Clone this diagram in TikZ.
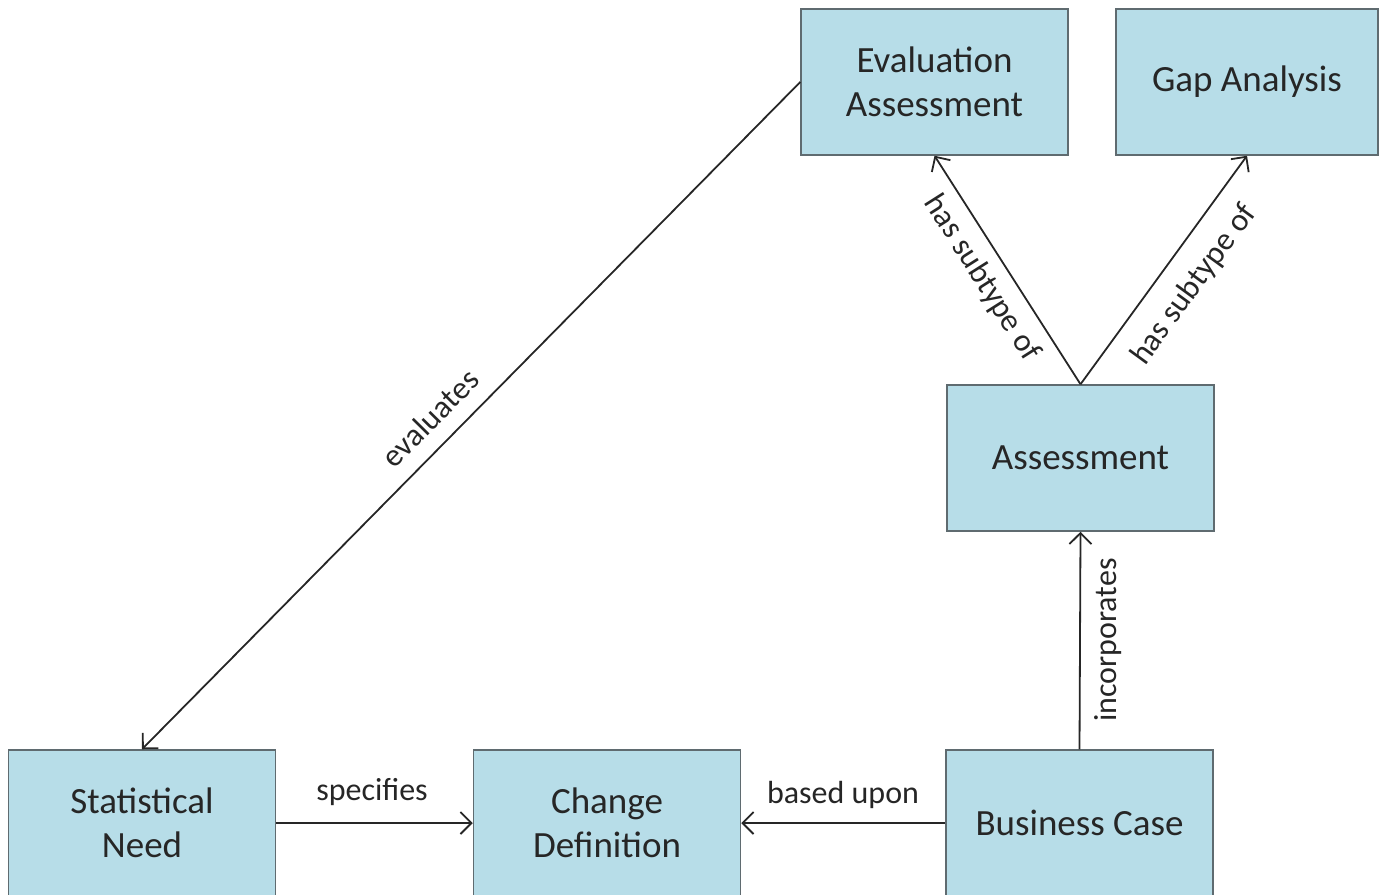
\documentclass[tikz,border=0pt]{standalone}
\usepackage{fontspec}
\setmainfont{Carlito}
\usetikzlibrary{arrows.meta}
\definecolor{boxfill}{HTML}{B7DDE8}
\definecolor{boxline}{HTML}{5F6B70}
\tikzset{
  box/.style={draw=boxline, line width=1.5pt, fill=boxfill, minimum width=267pt, minimum height=146pt, inner sep=0pt, align=center, font=\fontsize{37}{44}\selectfont, text=black!85},
  lbl/.style={font=\fontsize{32}{36}\selectfont, inner sep=0pt, text=black!85},
  conn/.style={line width=1.8pt, black!85, -{Straight Barb[length=11pt, width=22pt, line width=1.8pt]}}
}
\begin{document}
\begin{tikzpicture}[x=1pt, y=-1pt]
\useasboundingbox (0,0) rectangle (1380,894);
\clip (0,0) rectangle (1380,894);
\node[box] (eval) at (934.5,82) {Evaluation\\Assessment};
\node[box, minimum width=262pt] (gap) at (1247,82) {Gap Analysis};
\node[box] (assess) at (1080.5,458) {Assessment};
\node[box] (stat) at (142,823) {Statistical\\Need};
\node[box] (change) at (607,823) {Change\\Definition};
\node[box] (bc) at (1079.5,823) {Business Case};
\draw[conn] (eval.west) -- (stat.north);
\draw[conn] (assess.north) -- (eval.south);
\draw[conn] (assess.north) -- (gap.south);
\draw[conn] (bc.north) -- (assess.south);
\draw[conn] (bc.west) -- (change.east);
\draw[conn] (stat.east) -- (change.west);
\node[lbl, rotate=45.4] (l1) at (430,418) {evaluates};
\node[lbl, rotate=-57.6] (l2) at (982,278) {has subtype of};
\node[lbl, rotate=53.9] (l3) at (1194,285) {has subtype of};
\node[lbl, rotate=90] (l4) at (1108,640) {incorporates};
\node[lbl] (l5) at (843,795) {based upon};
\node[lbl] (l6) at (372,792) {specifies};
\end{tikzpicture}
\end{document}
